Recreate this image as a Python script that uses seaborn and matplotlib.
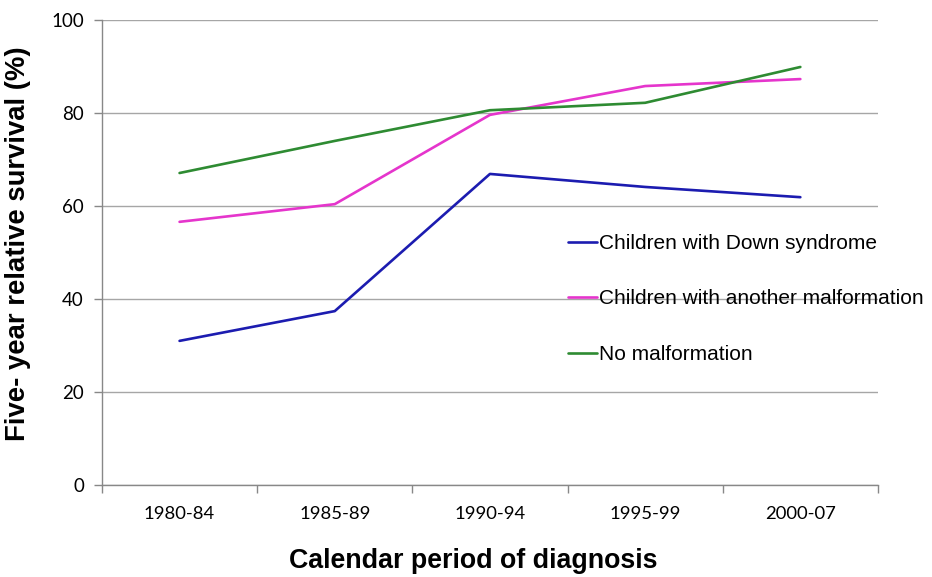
import seaborn as sns
import matplotlib.pyplot as plt
import pandas as pd
from matplotlib.ticker import FixedLocator

periods = ['1980-84', '1985-89', '1990-94', '1995-99', '2000-07']
down_syndrome = [31.0, 37.4, 66.9, 64.1, 61.9]
other_malformation = [56.6, 60.4, 79.6, 85.8, 87.3]
no_malformation = [67.1, 74.0, 80.6, 82.2, 89.9]

series_names = ['Children with Down syndrome',
                'Children with another malformation',
                'No malformation']
colors = ['#1c1cb0', '#e535cc', '#2e8b32']


def main():
    df = pd.DataFrame({
        'period': periods * 3,
        'survival': down_syndrome + other_malformation + no_malformation,
        'group': [series_names[0]] * 5 + [series_names[1]] * 5 + [series_names[2]] * 5,
    })

    sns.set_style('white')
    plt.rcParams['font.family'] = ['Liberation Sans', 'DejaVu Sans']
    plt.rcParams['text.color'] = 'black'
    plt.rcParams['axes.labelcolor'] = 'black'
    plt.rcParams['xtick.color'] = 'black'
    plt.rcParams['ytick.color'] = 'black'

    fig, ax = plt.subplots(figsize=(9.32, 5.77), dpi=100)
    fig.subplots_adjust(left=0.1094, right=0.942, top=0.9653, bottom=0.1594)

    sns.lineplot(data=df, x='period', y='survival', hue='group',
                 palette=colors, linewidth=1.9, ax=ax, sort=False)

    ax.set_xlim(-0.5, 4.5)
    ax.set_ylim(0, 100)
    ax.set_yticks(range(0, 101, 20))
    ax.yaxis.grid(True, color='#a6a6a6', linewidth=1)
    ax.set_axisbelow(True)

    # category labels centered, ticks at band boundaries
    ax.set_xticks(range(5))
    ax.set_xticklabels(periods, fontfamily='Lato', fontsize=13.3)
    ax.xaxis.set_minor_locator(FixedLocator([-0.5, 0.5, 1.5, 2.5, 3.5, 4.5]))
    ax.tick_params(axis='x', which='major', length=0, pad=15, labelcolor='black')
    ax.tick_params(axis='x', which='minor', length=6, color='#888888', width=1, bottom=True)
    ax.tick_params(axis='y', length=6, color='#888888', width=1, left=True,
                   labelsize=13.5, pad=7, labelcolor='black')
    for lab in ax.get_yticklabels():
        lab.set_fontfamily('Lato')

    for side in ['top', 'right']:
        ax.spines[side].set_visible(False)
    for side in ['left', 'bottom']:
        ax.spines[side].set_color('#888888')
        ax.spines[side].set_linewidth(1)

    ax.set_xlabel('Calendar period of diagnosis', fontsize=19.3, fontweight='bold')
    ax.set_ylabel('Five- year relative survival (%)', fontsize=19.8, fontweight='bold')
    ax.xaxis.set_label_coords(0.479, -0.163)
    ax.yaxis.set_label_coords(-0.108, 0.518)
    ax.xaxis.label.set_verticalalignment('center')
    ax.yaxis.label.set_verticalalignment('center')

    leg = ax.legend(frameon=False, loc='upper left', bbox_to_anchor=(0.59, 0.558),
                    fontsize=15, handlelength=1.4, handletextpad=0.1,
                    labelspacing=1.75, borderaxespad=0)
    for t in leg.get_texts():
        t.set_color('black')

    plt.savefig('out.png', dpi=100)


if __name__ == "__main__":
    main()
